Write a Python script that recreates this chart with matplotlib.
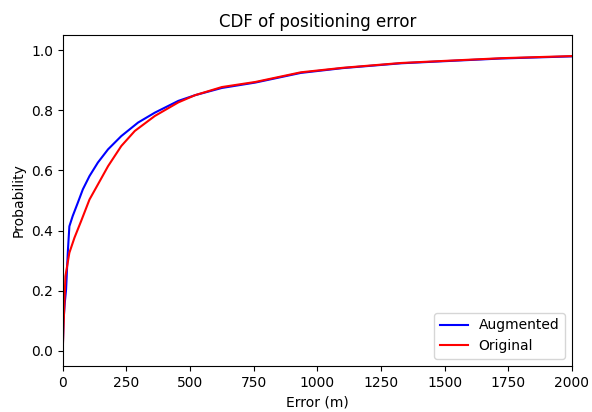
import matplotlib
matplotlib.use("Agg")
import matplotlib.pyplot as plt

# CDF points (error in m, cumulative probability)
aug_err = [0, 3, 8, 13, 20, 26, 39, 59, 79, 105, 138, 178, 230, 296, 362,
           454, 520, 625, 757, 935, 1100, 1329, 1500, 1724, 2000]
aug_prob = [0.0, 0.10, 0.16, 0.203, 0.33, 0.414, 0.448, 0.492, 0.537, 0.581,
            0.626, 0.67, 0.714, 0.759, 0.792, 0.831, 0.85, 0.874, 0.892,
            0.924, 0.940, 0.956, 0.963, 0.972, 0.979]

orig_err = [0, 2.6, 10.5, 26, 46, 72, 105, 138, 178, 230, 283, 362, 454,
            520, 625, 757, 935, 1100, 1329, 1500, 1724, 2000]
orig_prob = [0.0, 0.07, 0.248, 0.326, 0.376, 0.431, 0.503, 0.553, 0.614,
             0.681, 0.731, 0.781, 0.826, 0.85, 0.877, 0.894, 0.926, 0.941,
             0.957, 0.964, 0.973, 0.98]

fig = plt.figure(figsize=(5.92, 4.12), dpi=100)
ax = fig.add_subplot(111)
fig.subplots_adjust(left=0.106, right=0.966, top=0.915, bottom=0.112)

ax.plot(aug_err, aug_prob, color='blue', label='Augmented')
ax.plot(orig_err, orig_prob, color='red', label='Original')

ax.set_xlim(0, 2000)
ax.set_ylim(-0.05, 1.05)
ax.set_xlabel('Error (m)')
ax.set_ylabel('Probability')
ax.set_title('CDF of positioning error')
ax.legend(loc='lower right')

fig.savefig('out.png', dpi=100)
